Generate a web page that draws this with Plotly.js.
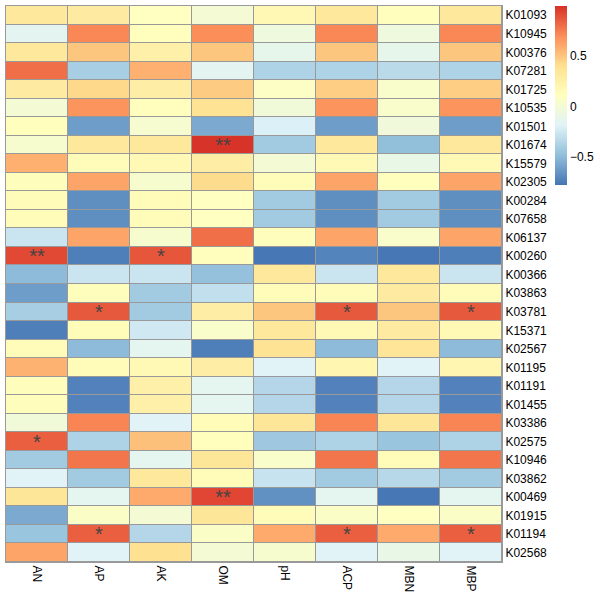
<!DOCTYPE html>
<html>
<head>
<meta charset="utf-8">
<script src="https://cdn.plot.ly/plotly-3.0.1.min.js"></script>
<style>html,body{margin:0;padding:0;background:#fff;}#chart{width:600px;height:600px;}</style>
</head>
<body>
<div id="chart"></div>
<script>
var columns = ["AN","AP","AK","OM","pH","ACP","MBN","MBP"];
var rows = ["K01093","K10945","K00376","K07281","K01725","K10535","K01501","K01674","K15579","K02305",
            "K00284","K07658","K06137","K00260","K00366","K03863","K03781","K15371","K02567","K01195",
            "K01191","K01455","K03386","K02575","K10946","K03862","K00469","K01915","K01194","K02568"];

var AN  = [0.33,-0.15,0.33,0.80,0.30,0.00,0.12,0.03,0.58,0.13,0.15,0.15,-0.27,0.92,-0.50,-0.62,-0.40,-0.74,0.15,0.57,0.13,0.13,-0.02,0.85,-0.42,-0.18,0.35,-0.57,-0.45,0.62];
var AP  = [0.30,0.72,0.50,-0.40,0.43,0.68,-0.62,0.33,0.15,0.62,-0.68,-0.68,0.62,-0.74,-0.27,0.13,0.87,0.15,-0.50,0.15,-0.73,-0.73,0.73,-0.37,0.78,-0.42,-0.14,0.07,0.85,-0.18];
var AK  = [0.10,0.12,0.25,0.58,0.28,0.12,0.02,0.33,0.17,0.03,0.15,0.15,0.03,0.88,-0.27,-0.42,-0.42,-0.25,-0.14,0.17,0.25,0.25,-0.18,0.52,-0.14,0.33,0.60,0.00,-0.35,0.40];
var OM  = [0.00,0.70,0.50,-0.15,0.48,0.38,-0.57,0.99,0.28,0.42,0.10,0.10,0.80,0.12,-0.47,-0.30,0.28,0.05,-0.74,0.28,-0.14,-0.14,0.15,0.12,0.35,0.15,0.93,0.35,0.07,0.00];
var pH  = [0.18,-0.05,-0.12,-0.37,0.08,-0.02,-0.20,-0.42,0.00,0.15,-0.42,-0.42,0.13,-0.77,0.33,0.15,0.50,0.33,0.38,-0.18,-0.35,-0.35,0.35,-0.43,0.05,-0.28,-0.67,0.15,0.60,0.03];
var ACP = [0.33,0.72,0.50,-0.37,0.47,0.68,-0.62,0.33,0.17,0.62,-0.68,-0.68,0.62,-0.72,-0.27,0.15,0.87,0.17,-0.50,0.20,-0.73,-0.73,0.73,-0.37,0.78,-0.42,-0.14,0.07,0.85,-0.18];
var MBN = [0.12,-0.05,-0.12,-0.33,0.05,0.05,-0.03,-0.48,-0.10,0.12,-0.42,-0.42,0.05,-0.77,0.33,0.30,0.50,0.30,0.36,-0.18,-0.35,-0.35,0.35,-0.45,0.15,-0.34,-0.77,0.10,0.60,-0.10];
var MBP = [0.33,0.72,0.50,-0.37,0.47,0.68,-0.62,0.33,0.17,0.62,-0.68,-0.68,0.62,-0.74,-0.27,0.15,0.87,0.17,-0.50,0.20,-0.73,-0.73,0.73,-0.37,0.78,-0.42,-0.14,0.07,0.85,-0.18];

// significance marks: [row, column, label]
var sigRows = ["K01674","K00260","K00260","K03781","K03781","K03781","K02575","K00469","K01194","K01194","K01194"];
var sigCols = ["OM","AN","AK","AP","ACP","MBP","AN","OM","AP","ACP","MBP"];
var sigText = ["**","**","*","*","*","*","*","**","*","*","*"];

var colTable = {AN:AN, AP:AP, AK:AK, OM:OM, pH:pH, ACP:ACP, MBN:MBN, MBP:MBP};
var z = rows.map(function(r, i){ return columns.map(function(c){ return colTable[c][i]; }); });
var txt = rows.map(function(){ return columns.map(function(){ return ""; }); });
for (var k = 0; k < sigRows.length; k++) {
  txt[rows.indexOf(sigRows[k])][columns.indexOf(sigCols[k])] = sigText[k];
}

var trace = {
  type: "heatmap",
  x: columns,
  y: rows,
  z: z,
  text: txt,
  texttemplate: "%{text}",
  textfont: {family: "Liberation Sans, Arial, sans-serif", size: 20, color: "#444444"},
  zmin: -0.78,
  zmax: 1.0,
  xgap: 1,
  ygap: 1,
  hoverinfo: "skip",
  colorscale: [[0,"#4575B4"],[1/6,"#91BFDB"],[2/6,"#E0F3F8"],[3/6,"#FFFFBF"],[4/6,"#FEE090"],[5/6,"#FC8D59"],[1,"#D73027"]],
  colorbar: {
    x: 1.107, xanchor: "left", xpad: 0,
    y: 1, yanchor: "top", ypad: 0,
    lenmode: "pixels", len: 179,
    thicknessmode: "pixels", thickness: 12,
    outlinewidth: 0,
    tickvals: [-0.5, 0, 0.5],
    ticktext: ["\u22120.5", "0", "0.5"],
    ticks: "",
    ticklabelpadding: 4,
    tickfont: {family: "Liberation Sans, Arial, sans-serif", size: 12, color: "#000"}
  }
};

var layout = {
  width: 600, height: 600,
  margin: {l: 6, r: 98, t: 6, b: 38},
  paper_bgcolor: "#fff",
  plot_bgcolor: "#999999",
  font: {family: "Liberation Sans, Arial, sans-serif", size: 12, color: "#000"},
  xaxis: {
    type: "category", tickangle: 90, ticks: "", showgrid: false, zeroline: false,
    showline: true, mirror: true, linecolor: "#999999", linewidth: 1,
    tickfont: {size: 12}
  },
  yaxis: {
    type: "category", side: "right", autorange: "reversed", ticks: "", showgrid: false, zeroline: false,
    showline: true, mirror: true, linecolor: "#999999", linewidth: 1,
    tickfont: {size: 12}
  }
};

Plotly.newPlot("chart", [trace], layout, {displayModeBar: false, staticPlot: true});
</script>
</body>
</html>
